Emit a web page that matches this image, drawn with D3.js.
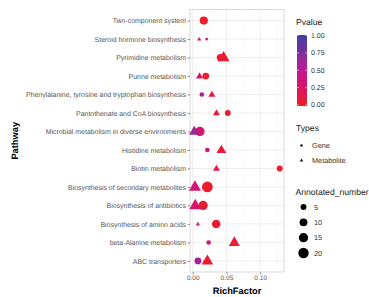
<!DOCTYPE html>
<meta charset="utf-8">
<style>
body { margin: 0; background: #fff; }
text { font-family: "Liberation Sans", Arial, sans-serif; text-rendering: geometricPrecision; }
</style>
<body>
<script src="https://cdn.jsdelivr.net/npm/d3@7"></script>
<script>

// pathways, top to bottom
const pathways = [
  "Two-component system",
  "Steroid hormone biosynthesis",
  "Pyrimidine metabolism",
  "Purine metabolism",
  "Phenylalanine, tyrosine and tryptophan biosynthesis",
  "Pantothenate and CoA biosynthesis",
  "Microbial metabolism in diverse environments",
  "Histidine metabolism",
  "Biotin metabolism",
  "Biosynthesis of secondary metabolites",
  "Biosynthesis of antibiotics",
  "Biosynthesis of amino acids",
  "beta-Alanine metabolism",
  "ABC transporters"
];

// Gene series
const geneRich  = [0.0164, 0.0207, 0.041, 0.0193, 0.0135, 0.052, 0.0106, 0.0217, 0.129, 0.0217, 0.0154, 0.0348, 0.0236, 0.0077];
const geneP     = [0.03, 0.45, 0.05, 0.05, 0.5, 0.05, 0.3, 0.4, 0.02, 0.03, 0.04, 0.05, 0.4, 0.6];
const geneCount = [11, 2, 8, 7, 3, 5, 16, 3, 5, 22, 15, 12, 3, 7];

// Metabolite series (null = none)
const metRich   = [null, 0.0096, 0.0458, 0.0101, 0.0284, 0.0352, 0.0023, 0.0425, 0.0352, 0.0033, 0.0038, 0.0077, 0.0617, 0.0217];
const metP      = [null, 0.4, 0.05, 0.3, 0.1, 0.08, 0.65, 0.08, 0.1, 0.35, 0.3, 0.45, 0.06, 0.05];
const metCount  = [null, 2, 10, 3, 3, 3, 7, 6, 3, 10, 10, 2, 8, 9];

const xTicks = [0, 0.05, 0.10];
const xMinor = [0.025, 0.075, 0.125];
const pTicks = [0, 0.25, 0.5, 0.75, 1];
const sizeBreaks = [5, 10, 15, 20];

const W = 369, H = 297;
const panel = {left: 190, right: 284, top: 9.5, bottom: 272};

const points = [];
pathways.forEach((p, i) => {
  points.push({path: p, type: "Gene", rich: geneRich[i], p: geneP[i], n: geneCount[i]});
  if (metRich[i] != null)
    points.push({path: p, type: "Metabolite", rich: metRich[i], p: metP[i], n: metCount[i]});
});

const svg = d3.select("body").append("svg")
    .attr("width", W).attr("height", H)
    .style("display", "block");

// x scale with 5% expansion
const ext = d3.extent(points, d => d.rich);
const pad = (ext[1] - ext[0]) * 0.05;
const x = d3.scaleLinear()
    .domain([ext[0] - pad, ext[1] + pad])
    .range([panel.left, panel.right]);

const y = d3.scalePoint()
    .domain(pathways)
    .range([panel.top, panel.bottom])
    .padding(0.6);

const color = d3.scaleLinear()
    .domain([0, 0.25, 0.5, 0.75, 1])
    .range(["#ee1d24", "#dc1660", "#bf1791", "#7b2d9c", "#3b3f9f"])
    .interpolate(d3.interpolateLab);

const nExt = d3.extent(points, d => d.n);
const sizeScale = d3.scaleSqrt()
    .domain([0, nExt[1] - nExt[0]])
    .range([1, 6]);
const radius = n => 0.5 * (1.6 * sizeScale(Math.max(0, n - nExt[0])) + 1.2);

// panel
svg.append("rect")
    .attr("x", panel.left).attr("y", panel.top)
    .attr("width", panel.right - panel.left)
    .attr("height", panel.bottom - panel.top)
    .attr("fill", "#fff");

const grid = svg.append("g").attr("fill", "none");
grid.selectAll(".minor").data(xMinor).join("line")
    .attr("x1", d => x(d)).attr("x2", d => x(d))
    .attr("y1", panel.top).attr("y2", panel.bottom)
    .attr("stroke", "#f2f2f2").attr("stroke-width", 0.5);
grid.selectAll(".major").data(xTicks).join("line")
    .attr("x1", d => x(d)).attr("x2", d => x(d))
    .attr("y1", panel.top).attr("y2", panel.bottom)
    .attr("stroke", "#ebebeb").attr("stroke-width", 0.8);
grid.selectAll(".hy").data(pathways).join("line")
    .attr("x1", panel.left).attr("x2", panel.right)
    .attr("y1", d => y(d)).attr("y2", d => y(d))
    .attr("stroke", "#ebebeb").attr("stroke-width", 0.8);

svg.append("rect")
    .attr("x", panel.left).attr("y", panel.top)
    .attr("width", panel.right - panel.left)
    .attr("height", panel.bottom - panel.top)
    .attr("fill", "none").attr("stroke", "#cfcfcf").attr("stroke-width", 0.8);

// axes
const yAxis = svg.append("g")
    .attr("transform", `translate(${panel.left},0)`)
    .call(d3.axisLeft(y).tickSize(2.5).tickPadding(1.5));
yAxis.select(".domain").remove();
yAxis.selectAll("line").attr("stroke", "#333").attr("stroke-width", 0.5);
yAxis.selectAll("text")
    .attr("fill", "#555")
    .style("font-size", "6.95px")
    .style("font-family", "Liberation Sans, Arial, sans-serif");

const xAxis = svg.append("g")
    .attr("transform", `translate(0,${panel.bottom})`)
    .call(d3.axisBottom(x).tickValues(xTicks).tickFormat(d3.format(".2f")).tickSize(2.5).tickPadding(1));
xAxis.select(".domain").remove();
xAxis.selectAll("line").attr("stroke", "#333").attr("stroke-width", 0.5);
xAxis.selectAll("text")
    .attr("fill", "#555")
    .style("font-size", "6.5px")
    .style("font-family", "Liberation Sans, Arial, sans-serif");

svg.append("text")
    .attr("x", (panel.left + panel.right) / 2).attr("y", 293.5)
    .attr("text-anchor", "middle")
    .style("font-size", "9.3px").style("font-weight", "bold")
    .text("RichFactor");

svg.append("text")
    .attr("transform", `translate(18,${(panel.top + panel.bottom) / 2}) rotate(-90)`)
    .attr("text-anchor", "middle")
    .style("font-size", "9.3px").style("font-weight", "bold")
    .text("Pathway");

// points
const tri = r => d3.symbol(d3.symbolTriangle, Math.PI * r * r * 1.3)();
svg.append("g").selectAll("path").data(points).join("path")
    .attr("transform", d => `translate(${x(d.rich)},${y(d.path) + (d.type === "Metabolite" ? 0.3 : 0)})`)
    .attr("d", d => d.type === "Gene"
        ? d3.symbol(d3.symbolCircle, Math.PI * radius(d.n) ** 2)()
        : tri(radius(d.n)))
    .attr("fill", d => color(d.p));

// legend: Pvalue colour bar
const lg = svg.append("g");
lg.append("text").attr("x", 296).attr("y", 25)
    .style("font-size", "8.6px").attr("fill", "#222").text("Pvalue");

const barTop = 35, barBot = 106, barX = 297, barW = 10;
const defs = svg.append("defs");
const grad = defs.append("linearGradient").attr("id", "pg")
    .attr("x1", 0).attr("y1", 1).attr("x2", 0).attr("y2", 0);
d3.range(0, 1.0001, 0.05).forEach(t => {
  grad.append("stop").attr("offset", t).attr("stop-color", color(t));
});
lg.append("rect").attr("x", barX).attr("y", barTop)
    .attr("width", barW).attr("height", barBot - barTop)
    .attr("fill", "url(#pg)");
const pY = d3.scaleLinear().domain([0, 1]).range([barBot - 1, barTop + 0.5]);
lg.selectAll(".pt").data(pTicks).join("g").each(function(d) {
  const g = d3.select(this);
  g.append("line").attr("x1", barX).attr("x2", barX + 2)
      .attr("y1", pY(d)).attr("y2", pY(d)).attr("stroke", "#fff").attr("stroke-width", 0.5);
  g.append("line").attr("x1", barX + barW - 2).attr("x2", barX + barW)
      .attr("y1", pY(d)).attr("y2", pY(d)).attr("stroke", "#fff").attr("stroke-width", 0.5);
  g.append("text").attr("x", 311).attr("y", pY(d)).attr("dy", "0.35em")
      .style("font-size", "7px").attr("fill", "#333")
      .text(d3.format(".2f")(d));
});

// legend: Types
lg.append("text").attr("x", 296).attr("y", 131)
    .style("font-size", "8.6px").attr("fill", "#222").text("Types");
const types = ["Gene", "Metabolite"];
const tY = d3.scalePoint().domain(types).range([145.5, 160.5]);
lg.selectAll(".ty").data(types).join("g").each(function(d) {
  const g = d3.select(this);
  g.append("path")
      .attr("transform", `translate(301.5,${tY(d)})`)
      .attr("d", d === "Gene" ? d3.symbol(d3.symbolCircle, 4.5)() : d3.symbol(d3.symbolTriangle, 5)())
      .attr("fill", "#111");
  g.append("text").attr("x", 312).attr("y", tY(d)).attr("dy", "0.35em")
      .style("font-size", "7.3px").attr("fill", "#333").text(d);
});

// legend: Annotated_number
lg.append("text").attr("x", 295.5).attr("y", 194.5)
    .style("font-size", "8.6px").attr("fill", "#222").text("Annotated_number");
const sY = d3.scalePoint().domain(sizeBreaks).range([207, 253]);
lg.selectAll(".sz").data(sizeBreaks).join("g").each(function(d) {
  const g = d3.select(this);
  g.append("circle").attr("cx", 303.5).attr("cy", sY(d)).attr("r", radius(d)).attr("fill", "#000");
  g.append("text").attr("x", 314).attr("y", sY(d)).attr("dy", "0.35em")
      .style("font-size", "7.3px").attr("fill", "#333").text(d);
});

</script>
